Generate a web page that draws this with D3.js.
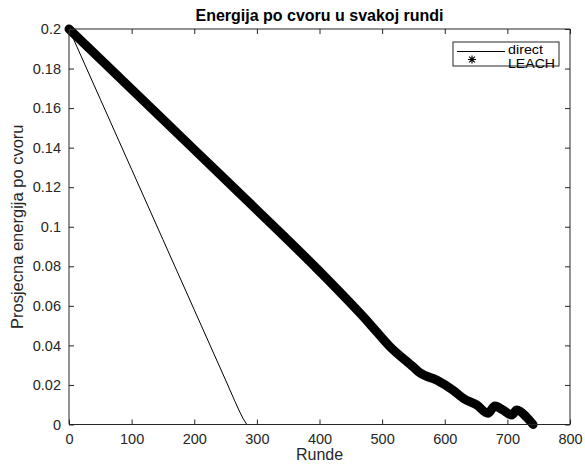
<!DOCTYPE html>
<html><head><meta charset="utf-8">
<script src="https://cdn.jsdelivr.net/npm/d3@7"></script>
<style>body{margin:0;background:#fff;} text{font-family:"Liberation Sans",Arial,Helvetica,sans-serif;}</style>
</head><body>
<svg id="c" width="585" height="465"></svg>
<script>
const title = "Energija po cvoru u svakoj rundi";
const xLabel = "Runde";
const yLabel = "Prosjecna energija po cvoru";
const xTicks = [0,100,200,300,400,500,600,700,800];
const yTicks = [0,0.02,0.04,0.06,0.08,0.1,0.12,0.14,0.16,0.18,0.2];
const yTickLabels = ["0","0.02","0.04","0.06","0.08","0.1","0.12","0.14","0.16","0.18","0.2"];
const seriesNames = ["direct","LEACH"];
const directRounds = [0,50,100,150,200,250,265,272,278,284];
const directEnergy = [0.2,0.1645,0.129,0.0935,0.058,0.0225,0.0117,0.0068,0.003,0.0];
const leachRounds = [0,100,200,300,400,480,512,550,560,587,613,630,651,669,680,693,707,715,731,741];
const leachEnergy = [0.2,0.1695,0.139,0.1085,0.0775,0.051,0.0395,0.029,0.0262,0.0225,0.0174,0.0132,0.0099,0.0057,0.0094,0.0073,0.0048,0.0073,0.0036,0.0];

const svg = d3.select("#c");
const L=69,R=570,T=29,B=424.5;
const x = d3.scaleLinear().domain([0,800]).range([L,R]);
const y = d3.scaleLinear().domain([0,0.2]).range([B,T]);
const axc = "#262626";

// data lines
const line = d3.line().x(d=>x(d[0])).y(d=>y(d[1]));
const g = svg.append("g");
g.append("path").datum(directRounds.map((r,i)=>[r,directEnergy[i]]))
  .attr("d",line).attr("fill","none").attr("stroke","#000").attr("stroke-width",1);
g.append("path").datum(leachRounds.map((r,i)=>[r,leachEnergy[i]]))
  .attr("d",line.curve(d3.curveMonotoneX)).attr("fill","none").attr("stroke","#000").attr("stroke-width",9)
  .attr("stroke-linejoin","round").attr("stroke-linecap","round");

// axes (ticks inside, box)
const fs=14.5;
const xb = d3.axisBottom(x).tickValues(xTicks).tickSize(-5).tickPadding(9).tickFormat(d3.format("d"));
const xt = d3.axisTop(x).tickValues(xTicks).tickSize(-5).tickFormat("");
const yl = d3.axisLeft(y).tickValues(yTicks).tickSize(-5).tickPadding(8).tickFormat((d,i)=>yTickLabels[i]);
const yr = d3.axisRight(y).tickValues(yTicks).tickSize(-5).tickFormat("");
function style(sel){
  sel.selectAll("path").attr("stroke",axc).attr("stroke-width",1);
  sel.selectAll("line").attr("stroke",axc).attr("stroke-width",1);
  sel.selectAll("text").attr("fill",axc).style("font-size",fs+"px");
}
svg.append("g").attr("transform",`translate(0,${B})`).call(xb).call(style).call(s=>s.selectAll("path").attr("d",`M${L},0H${R}`));
svg.append("g").attr("transform",`translate(0,${T})`).call(xt).call(style).call(s=>s.selectAll("path").attr("d",`M${L},0H${R}`));
svg.append("g").attr("transform",`translate(${L},0)`).call(yl).call(style).call(s=>s.selectAll("path").attr("d",`M0,${T}V${B}`));
svg.append("g").attr("transform",`translate(${R},0)`).call(yr).call(style).call(s=>s.selectAll("path").attr("d",`M0,${T}V${B}`));

// title and labels
svg.append("text").attr("x",(L+R)/2).attr("y",21).attr("text-anchor","middle")
  .style("font-size","16px").style("font-weight","bold").attr("fill","#000").text(title);
svg.append("text").attr("x",(L+R)/2).attr("y",460).attr("text-anchor","middle")
  .style("font-size","16px").attr("fill",axc).text(xLabel);
svg.append("text").attr("transform",`translate(23,${(T+B)/2}) rotate(-90)`).attr("text-anchor","middle")
  .style("font-size","16.5px").attr("fill",axc).text(yLabel);

// legend
const lg = svg.append("g");
lg.append("rect").attr("x",453).attr("y",42).attr("width",106).attr("height",24)
  .attr("fill","#fff").attr("stroke",axc).attr("stroke-width",1);
lg.append("line").attr("x1",457).attr("x2",505).attr("y1",51.5).attr("y2",51.5).attr("stroke","#000").attr("stroke-width",1);
const ax=472, ay=59.5, s=4;
lg.append("path").attr("d",`M${ax-s},${ay}H${ax+s}M${ax},${ay-s}V${ay+s}M${ax-s*0.72},${ay-s*0.72}L${ax+s*0.72},${ay+s*0.72}M${ax-s*0.72},${ay+s*0.72}L${ax+s*0.72},${ay-s*0.72}`)
  .attr("stroke","#000").attr("stroke-width",1.2);
lg.append("text").attr("x",508).attr("y",54).style("font-size","12px").attr("fill","#000")
  .attr("textLength",35).attr("lengthAdjust","spacingAndGlyphs").text(seriesNames[0]);
lg.append("text").attr("x",508).attr("y",67.5).style("font-size","12px").attr("fill","#000")
  .attr("textLength",47).attr("lengthAdjust","spacingAndGlyphs").text(seriesNames[1]);
</script>
</body></html>
